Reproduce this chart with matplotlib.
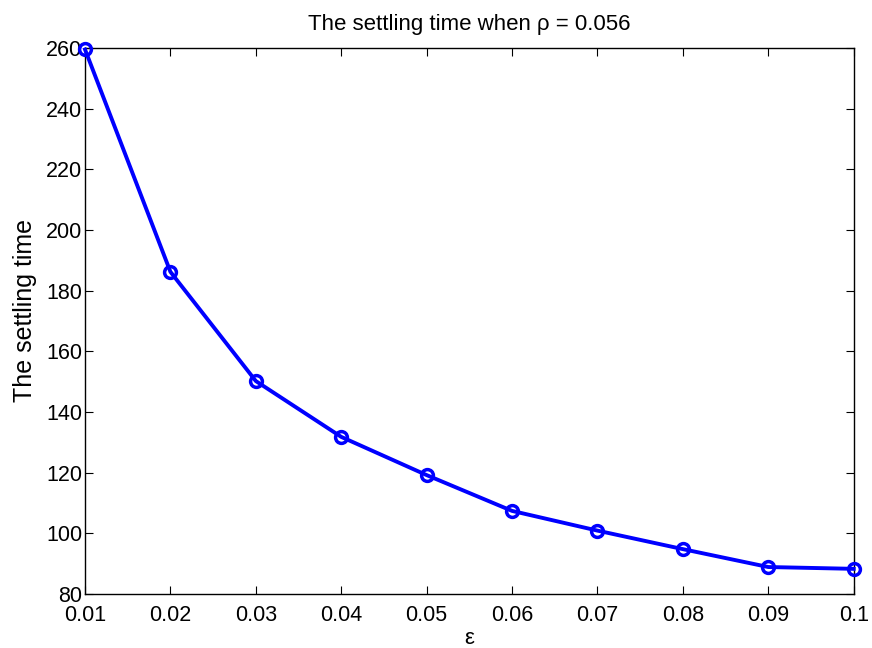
import matplotlib
matplotlib.use("Agg")
import matplotlib.pyplot as plt

eps = [0.01, 0.02, 0.03, 0.04, 0.05, 0.06, 0.07, 0.08, 0.09, 0.10]
settling = [259.5, 186.2, 150.2, 131.8, 119.2, 107.4, 100.9, 94.8, 88.9, 88.3]
xticks = [0.01, 0.02, 0.03, 0.04, 0.05, 0.06, 0.07, 0.08, 0.09, 0.1]
xticklabels = ["0.01", "0.02", "0.03", "0.04", "0.05", "0.06", "0.07", "0.08", "0.09", "0.1"]
yticks = [80, 100, 120, 140, 160, 180, 200, 220, 240, 260]

plt.rcParams['font.family'] = ['Liberation Sans', 'DejaVu Sans']

fig = plt.figure(figsize=(8.72, 6.48), dpi=100)
ax = fig.add_axes([0.0975, 0.0833, 0.8815, 0.8427])
ax.plot(eps, settling, color='#0000ff', linewidth=2.8, marker='o', markersize=8.5,
        markerfacecolor='none', markeredgecolor='#0000ff', markeredgewidth=2.5, clip_on=False, zorder=5)
ax.set_xlim(0.01, 0.1)
ax.set_ylim(80, 260)
ax.set_xticks(xticks)
ax.set_xticklabels(xticklabels)
ax.set_yticks(yticks)
ax.tick_params(direction='in', top=True, right=True, labelsize=15.5, length=6, width=0.8)
ax.tick_params(axis='x', pad=8)
ax.tick_params(axis='y', pad=2)
for s in ax.spines.values():
    s.set_linewidth(1.0)
ax.set_title('The settling time when \u03c1 = 0.056', fontsize=16, pad=13)
ax.set_xlabel('\u03b5', fontsize=16, labelpad=1)
ax.set_ylabel('The settling time', fontsize=18)
ax.yaxis.set_label_coords(-0.062, 0.52)
fig.savefig('out.png', dpi=100)
